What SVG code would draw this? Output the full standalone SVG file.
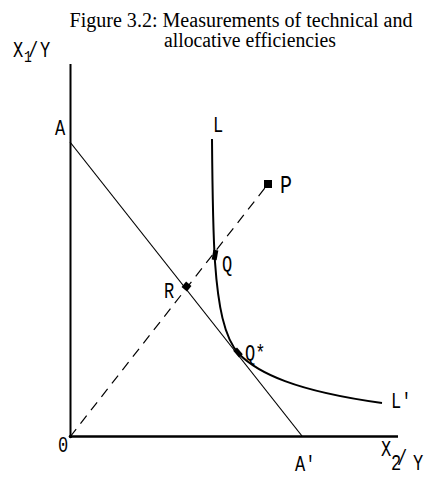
<svg xmlns="http://www.w3.org/2000/svg" width="430" height="478" viewBox="0 0 430 478">
<style>
.title{font-family:"Liberation Serif",serif;font-size:20px;fill:#000}
.lab{font-family:"Liberation Mono",monospace;font-size:17px;fill:#000}
.ax{stroke:#000;fill:none}
.dash{stroke:#000;stroke-width:1.2;stroke-dasharray:10 7;fill:none}
.mk{fill:#000}
</style>
<rect width="430" height="478" fill="#fff"/>
<g id="title">
<text class="title" x="241" y="27" text-anchor="middle" textLength="343" lengthAdjust="spacingAndGlyphs">Figure 3.2: Measurements of technical and</text>
<text class="title" x="250" y="47" text-anchor="middle" textLength="172" lengthAdjust="spacingAndGlyphs">allocative efficiencies</text>
</g>
<g id="connectors">
<line class="ax" x1="70.5" y1="64" x2="70.5" y2="437" stroke-width="2"/>
<line class="ax" x1="70" y1="436.5" x2="398" y2="436.5" stroke-width="2.5"/>
<line class="ax" x1="70" y1="142" x2="302" y2="436" stroke-width="1.2"/>
<line class="dash" x1="70" y1="437" x2="268" y2="184"/>
<path class="ax" stroke-width="2" d="M212,139 C212.5,200 213.5,240 215,262 C218,305 224,338 239,354 C258,373 295,391 382,403"/>
</g>
<g id="node-O"><circle class="mk" cx="70.5" cy="436.5" r="1.8"/><text class="lab" transform="translate(58,452) scale(1,1.3)">0</text></g>
<g id="node-A"><text class="lab" transform="translate(55,135) scale(1,1.3)">A</text></g>
<g id="node-Aprime"><text class="lab" transform="translate(295,471) scale(1,1.3)">A'</text></g>
<g id="node-L"><text class="lab" transform="translate(213,132) scale(1,1.3)">L</text></g>
<g id="node-Lprime"><text class="lab" transform="translate(391,408) scale(1,1.3)">L'</text></g>
<g id="node-P"><rect class="mk" x="264" y="180" width="8" height="8"/><text class="lab" style="font-size:20px" transform="translate(280,193) scale(1,1.3)">P</text></g>
<g id="node-Q"><rect class="mk" x="212.5" y="250" width="5" height="10" transform="rotate(10 215 255)"/><text class="lab" transform="translate(222,271) scale(1,1.3)">Q</text></g>
<g id="node-R"><rect class="mk" x="183" y="283" width="7" height="7" transform="rotate(40 186.5 286.5)"/><text class="lab" transform="translate(164,298) scale(1,1.3)">R</text></g>
<g id="node-Qstar"><rect class="mk" x="233.5" y="350" width="9" height="5" transform="rotate(50 238 352.5)"/><text class="lab" transform="translate(245,360) scale(1,1.3)">Q*</text></g>
<g id="ylabel"><text class="lab" transform="translate(13,57) scale(1,1.3)">X</text><text class="lab" style="font-size:13px" transform="translate(24,62) scale(1,1.3)">1</text><text class="lab" transform="translate(28,57) scale(1,1.3)">/</text><text class="lab" transform="translate(40,57) scale(1,1.3)">Y</text></g>
<g id="xlabel"><text class="lab" transform="translate(381,456) scale(1,1.3)">X</text><text class="lab" transform="translate(391,470) scale(1,1.3)">2</text><text class="lab" transform="translate(397,465) scale(1,1.3)">/</text><text class="lab" transform="translate(413,470) scale(1,1.3)">Y</text></g>
</svg>
